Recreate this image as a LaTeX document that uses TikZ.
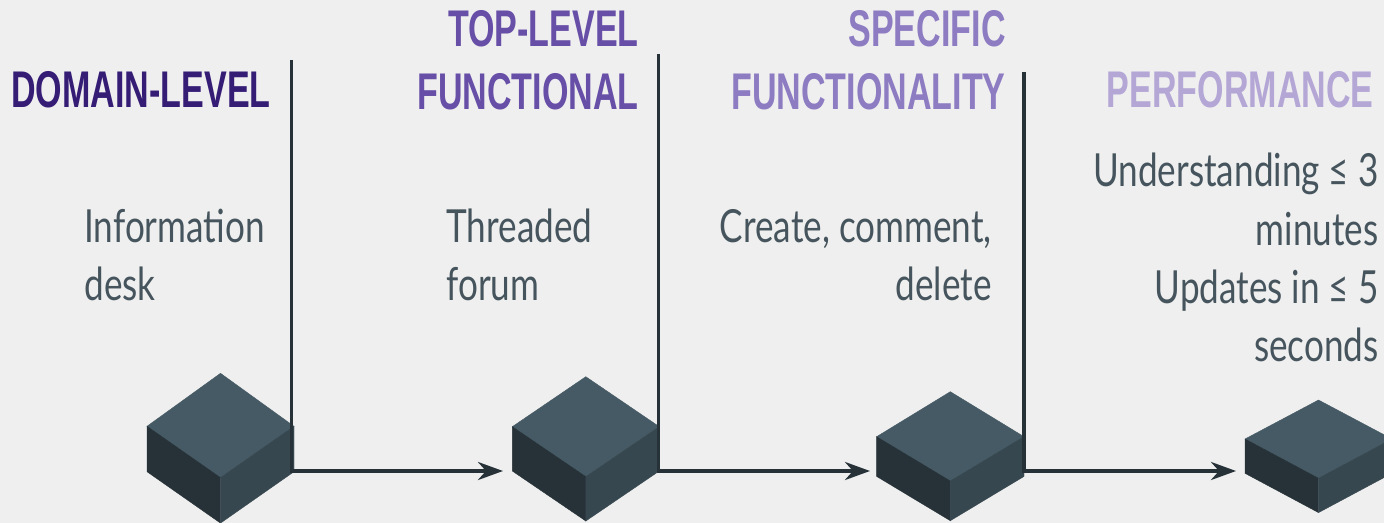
\documentclass[tikz,border=0pt]{standalone}
\usepackage{fontspec}
\usetikzlibrary{arrows.meta}
\newfontfamily\headfont{Liberation Sans}[FakeStretch=0.66]
\newfontfamily\bodyfont{Lato}[FakeStretch=0.77]
\definecolor{bg}{HTML}{EFEFEF}
\definecolor{hdA}{HTML}{351C75}
\definecolor{hdB}{HTML}{674EA7}
\definecolor{hdC}{HTML}{8E7CC3}
\definecolor{hdD}{HTML}{B4A7D6}
\definecolor{bodytxt}{HTML}{46555D}
\definecolor{linec}{HTML}{263238}
\definecolor{ctop}{HTML}{455A64}
\definecolor{cleft}{HTML}{263238}
\definecolor{cright}{HTML}{37474F}
\tikzset{
  heading/.style={inner sep=0pt, align=right, font=\headfont\bfseries\fontsize{25.8}{31.5}\selectfont},
  bodytext/.style={inner sep=0pt, text=bodytxt, font=\bodyfont\fontsize{22.8}{29}\selectfont},
  flow/.style={draw=linec, line width=1.9pt, -{Stealth[length=12.5pt,width=9pt,inset=4pt]}},
  cubetop/.style={fill=ctop, draw=ctop, line width=0.2pt},
  cubeleft/.style={fill=cleft, draw=cleft, line width=0.2pt},
  cuberight/.style={fill=cright, draw=cright, line width=0.2pt},
}
% cx, ytop, yside, ymid, halfwidth, height
\newcommand\drawIsoCube[6]{%
  \path[cubetop] (#1,#2) -- ({#1+#5},#3) -- (#1,#4) -- ({#1-#5},#3) -- cycle;
  \path[cubeleft] ({#1-#5},#3) -- (#1,#4) -- (#1,{#4+#6}) -- ({#1-#5},{#3+#6}) -- cycle;
  \path[cuberight] (#1,#4) -- ({#1+#5},#3) -- ({#1+#5},{#3+#6}) -- (#1,{#4+#6}) -- cycle;
}
\begin{document}
\begin{tikzpicture}[x=0.5pt,y=-0.5pt]
\useasboundingbox (0,0) rectangle (1384,523);
\clip (0,0) rectangle (1384,523);
\fill[bg] (0,0) rectangle (1384,523);

% cubes
\drawIsoCube{220.5}{373.3}{426.3}{477.7}{73.5}{45.4}
\drawIsoCube{585.8}{376.7}{426.7}{476.7}{73.5}{44.3}
\drawIsoCube{950.3}{391.7}{436.7}{481.0}{73.7}{39.7}
\drawIsoCube{1318.5}{400.0}{439.0}{478.3}{73.5}{34.3}

% connectors
\coordinate (v1) at (291.5,60);
\coordinate (a1) at (503,471);
\coordinate (v2) at (658.5,54);
\coordinate (a2) at (870,471);
\coordinate (v3) at (1024,72);
\coordinate (a3) at (1236,471);
\draw[flow] (v1) |- (a1);
\draw[flow] (v2) |- (a2);
\draw[flow] (v3) |- (a3);

% headings (base anchor = baseline of last line)
\node[heading, text=hdA, anchor=base east] (h1) at (271,108) {DOMAIN-LEVEL};
\node[heading, text=hdB, anchor=base east] (h2) at (639,110) {TOP-LEVEL\\FUNCTIONAL};
\node[heading, text=hdC, anchor=base east] (h3) at (1006,110) {SPECIFIC\\FUNCTIONALITY};
\node[heading, text=hdD, anchor=base east] (h4) at (1374,108) {PERFORMANCE};

% body texts
\node[bodytext, align=left, anchor=base west] (b1) at (84,300.7) {Information\\desk};
\node[bodytext, align=left, anchor=base west] (b2) at (446,300.5) {Threaded\\forum};
\node[bodytext, align=right, anchor=base east] (b3) at (992,300.5) {Create, comment,\\delete};
\node[bodytext, align=right, anchor=base east] (b4) at (1379,361) {Understanding ≤ 3\\minutes\\Updates in ≤ 5\\seconds};
\end{tikzpicture}
\end{document}
